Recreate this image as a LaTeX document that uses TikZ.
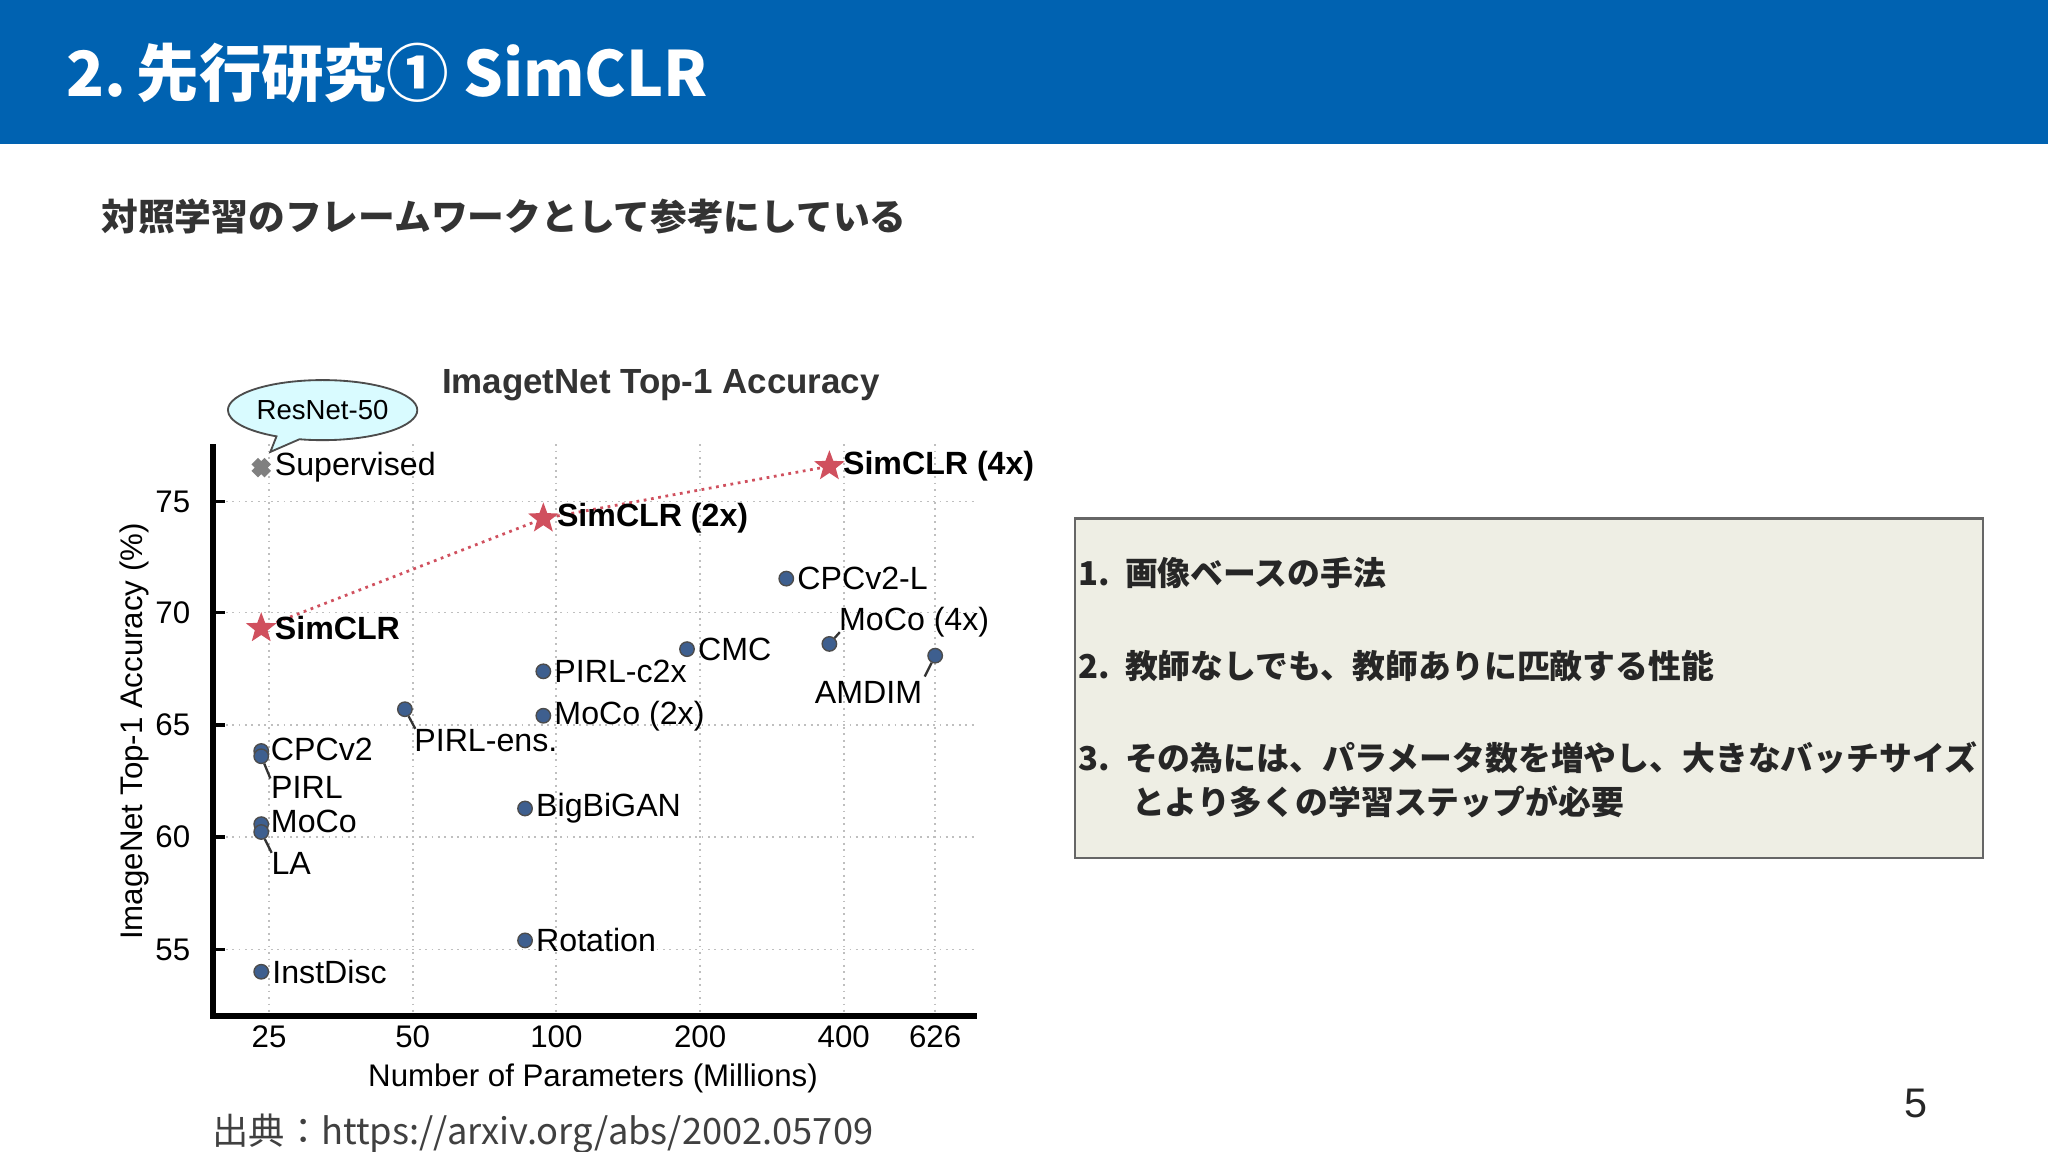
\documentclass[tikz,border=0pt]{standalone}
\usepackage{fontspec}
\setmainfont{Liberation Sans}
\newfontfamily\jp{Noto Sans CJK JP}
\usetikzlibrary{shapes.geometric,shapes.callouts}
\definecolor{hdr}{HTML}{0062B1}
\definecolor{dotc}{HTML}{3E5F8F}
\definecolor{starc}{HTML}{D0505E}
\definecolor{boxc}{HTML}{EEEEE4}
\tikzset{
 pt/.style={circle,fill=dotc,draw=black!70,line width=0.3pt,inner sep=0pt,minimum size=9pt*0.35},
 st/.style={star,star points=5,star point ratio=2.4,fill=starc,inner sep=0pt,minimum size=20pt*0.35},
 lab/.style={font=\fontsize{7}{8}\selectfont,inner sep=0.5pt},
 blab/.style={font=\fontsize{7}{8}\selectfont\bfseries,inner sep=0.5pt},
 grid/.style={densely dotted,gray!50,line width=0.4pt},
 tick/.style={font=\fontsize{6.8}{8}\selectfont},
 jtxt/.style={font=\jp\fontsize{7.15}{9}\selectfont\bfseries,anchor=west,text=black!85,inner sep=0pt},
}
\begin{document}
\begin{tikzpicture}[x=0.01cm,y=-0.01cm]
\useasboundingbox (0,0) rectangle (1568,882);
\fill[white] (0,0) rectangle (1568,882);
\fill[hdr] (0,0) rectangle (1568,110);
\node[anchor=west,text=white,font=\jp\fontsize{13.6}{15}\selectfont\bfseries,inner sep=0pt] (title) at (50,56) {2.\,先行研究① SimCLR};
\node[jtxt,font=\jp\fontsize{8}{10}\selectfont\bfseries,text=black!80] (sub) at (77,166) {対照学習のフレームワークとして参考にしている};
% chart
\node[font=\fontsize{7.6}{9}\selectfont\bfseries,text=black!80] (ctitle) at (506,295) {ImagetNet Top-1 Accuracy};
\foreach \y/\v in {384/75,469/70,555/65,641/60,727/55}{
 \draw[grid] (163,\y) -- (748,\y);
 \draw[line width=0.8pt] (163,\y) -- (172,\y);
 \node[tick,anchor=east] at (158,\y) {\v};}
\foreach \x/\v in {206/25,316/50,426/100,536/200,646/400,716/626}{
 \draw[grid] (\x,340) -- (\x,778);
 \node[tick] at (\x,794) {\v};}
\draw[line width=1.4pt] (163,340) -- (163,778) -- (748,778);
\node[tick,rotate=90] (ylab) at (103,560) {ImageNet Top-1 Accuracy (\%)};
\node[tick] (xlab) at (454,826) {Number of Parameters (Millions)};
% simclr
\node[st] (s1) at (200,481) {};
\node[st] (s2) at (416,397) {};
\node[st] (s4) at (635,357) {};
\draw[densely dotted,starc,line width=0.6pt] (s1) -- (s2) -- (s4);
\node[blab,anchor=west] at (s1.east) {SimCLR};
\node[blab,anchor=west] at (s2.east) {SimCLR (2x)};
\node[blab,anchor=west] at (s4.east) {SimCLR (4x)};
\draw[gray,line width=2pt] (195,353) -- (205,363) (195,363) -- (205,353);
\coordinate (sup) at (200,358);
\node[lab,anchor=west] at (208,358) {Supervised};
% callout
\node[ellipse callout,draw=black!70,fill=blue!10!cyan!15,callout absolute pointer={(207,346)},font=\fontsize{6}{7}\selectfont,minimum width=145*0.01cm,minimum height=46*0.01cm,inner sep=0pt] (rn) at (247,314) {ResNet-50};
% points
\node[pt] (cpcl) at (602,443) {}; \node[lab,anchor=west] at (cpcl.east) {CPCv2-L};
\node[pt] (m4) at (635,493) {}; \node[lab,anchor=west] (m4l) at (640,476) {MoCo (4x)}; \draw[black!80,line width=0.5pt] (m4) -- (643,484);
\node[pt] (am) at (716,502) {}; \node[lab] (aml) at (665,530) {AMDIM}; \draw[black!80,line width=0.5pt] (am) -- (708,518);
\node[pt] (cmc) at (526,497) {}; \node[lab,anchor=west] at (cmc.east) {CMC};
\node[pt] (pc2) at (416,514) {}; \node[lab,anchor=west] at (pc2.east) {PIRL-c2x};
\node[pt] (m2) at (416,548) {}; \node[lab,anchor=west] at (m2.east) {MoCo (2x)};
\node[pt] (pe) at (310,543) {}; \node[lab] (pel) at (372,567) {PIRL-ens.}; \draw[black!80,line width=0.5pt] (pe) -- (318,558);
\node[pt] (cpc) at (200,575) {}; \node[lab,anchor=west] at (205,574) {CPCv2};
\node[pt] (pirl) at (200,579) {}; \node[lab] (pirll) at (235,603) {PIRL}; \draw[black!80,line width=0.5pt] (pirl) -- (207,596);
\node[pt] (moco) at (200,631) {}; \node[lab,anchor=west] at (205,629) {MoCo};
\node[pt] (la) at (200,637) {}; \node[lab] (lal) at (223,661) {LA}; \draw[black!80,line width=0.5pt] (la) -- (208,653);
\node[pt] (bb) at (402,619) {}; \node[lab,anchor=west] at (bb.east) {BigBiGAN};
\node[pt] (rot) at (402,720) {}; \node[lab,anchor=west] at (rot.east) {Rotation};
\node[pt] (id) at (200,744) {}; \node[lab,anchor=west] at (id.east) {InstDisc};
\node[anchor=west,font=\jp\fontsize{7.9}{9}\selectfont,text=black!75,inner sep=0pt] (cite) at (162,868) {出典：https://arxiv.org/abs/2002.05709};
% box
\draw[fill=boxc,draw=black!60,line width=0.5pt] (823,397) rectangle (1518,657);
\node[jtxt] at (825,439) {1.\ \ 画像ベースの手法};
\node[jtxt] at (825,510) {2.\ \ 教師なしでも、教師ありに匹敵する性能};
\node[jtxt] at (825,580) {3.\ \ その為には、パラメータ数を増やし、大きなバッチサイズ};
\node[jtxt] at (866,614) {とより多くの学習ステップが必要};
\node[font=\fontsize{9}{10}\selectfont,text=black!85] (pg) at (1467,845) {5};
\end{tikzpicture}
\end{document}
